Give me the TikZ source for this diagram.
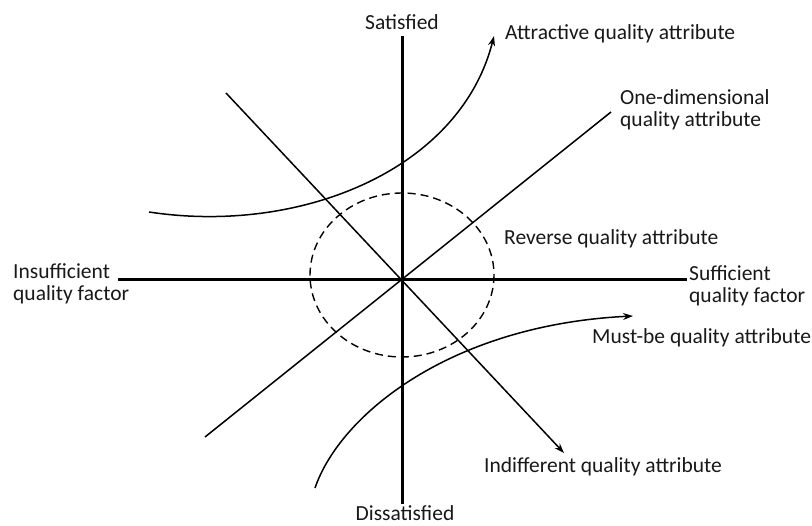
\documentclass[tikz,border=0pt]{standalone}
\usepackage{fontspec}
\setmainfont{Carlito}
\usetikzlibrary{arrows.meta}
\begin{document}
\begin{tikzpicture}[x=1pt,y=-1pt,
  lbl/.style={inner sep=0pt, font=\fontsize{21.5}{22}\selectfont, text=black!90},
  axisline/.style={line width=3pt},
  thinline/.style={line width=1.5pt},
  arr/.style={-{Stealth[length=10pt,width=7pt]}},
  circ/.style={line width=1.4pt, dash pattern=on 8pt off 5pt}
]
\useasboundingbox (0,0) rectangle (812,526);
\fill[white] (0,0) rectangle (812,526);
% labels
\node[lbl, anchor=base] (sat) at (402,30) {Satisfied};
\node[lbl, anchor=base, text depth=0pt] (dis) at (405,521) {Dissatisfied};
\node[lbl, anchor=base west] (attr) at (505,40) {Attractive quality attribute};
\node[lbl, anchor=west, align=left] (one) at (620,110) {One-dimensional\\quality attribute};
\node[lbl, anchor=base west] (rev) at (504,245) {Reverse quality attribute};
\node[lbl, anchor=west, align=left] (ins) at (13,284) {Insufficient\\quality factor};
\node[lbl, anchor=west, align=left] (suf) at (689,286) {Sufficient\\quality factor};
\node[lbl, anchor=base west] (must) at (592,344) {Must-be quality attribute};
\node[lbl, anchor=base west] (ind) at (484,473) {Indifferent quality attribute};
% coordinates
\coordinate (O) at (402,280);
\coordinate (vt) at (402,36);
\coordinate (vb) at (402,504);
\coordinate (hl) at (118,280);
\coordinate (hr) at (687,280);
\coordinate (d1a) at (205,437);
\coordinate (d1b) at (611,112);
\coordinate (d2a) at (226,93);
\coordinate (d2b) at (564,453);
\coordinate (a0) at (149,212);
\coordinate (a1) at (494,36);
\coordinate (m0) at (315,488);
\coordinate (m1) at (633,316);
% dashed circle
\draw[circ] (402,275) ellipse [x radius=92, y radius=82];
% axes
\draw[axisline] (vt) -- (vb);
\draw[axisline] (hl) -- (hr);
% diagonals
\draw[thinline] (d1a) -- (d1b);
\draw[thinline, arr] (d2a) -- (d2b);
% curves
\draw[thinline, arr] (a0) .. controls (300,235) and (460,170) .. (a1);
\draw[thinline, arr] (m0) .. controls (340,415) and (450,325) .. (m1);
\end{tikzpicture}
\end{document}
